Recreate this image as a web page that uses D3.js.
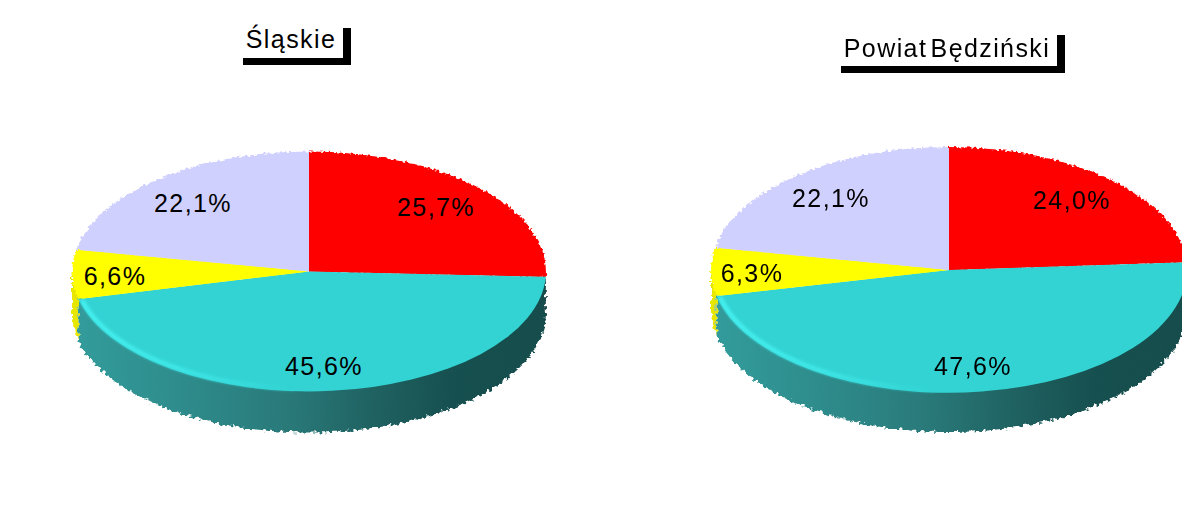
<!DOCTYPE html>
<html>
<head>
<meta charset="utf-8">
<script src="https://cdn.jsdelivr.net/npm/d3@7"></script>
<style>
  body { margin: 0; background: #fff; }
  svg { display: block; }
  text { font-family: "Liberation Sans", Arial, sans-serif; fill: #000; }
</style>
</head>
<body>
<svg id="chart" width="1182" height="516"></svg>
<script>
// slices run clockwise from 12 o'clock
const sliceColors = ['#ff0000', '#33d3d3', '#ffff00', '#d0d0ff'];
const wallColors = ['#c00000', null, '#e6e600', '#a0a0d0'];

const titles = ['Śląskie', 'Powiat Będziński'];
const slaskieValues = [25.7, 45.6, 6.6, 22.1];
const bedzinskiValues = [24.0, 47.6, 6.3, 22.1];
const slaskieLabels = ['25,7%', '45,6%', '6,6%', '22,1%'];
const bedzinskiLabels = ['24,0%', '47,6%', '6,3%', '22,1%'];

const panels = [
  {
    id: 'a', title: titles[0], values: slaskieValues, labels: slaskieLabels,
    cx: 309, cy: 271.5, rx: 237, ry: 120, depth: 41,
    box: { x: 243, y: 21, w: 100, h: 37, textX: 291, textY: 48 },
    labelOffsets: [[127, -64.5], [15, 94.5], [-194, 4.5], [-116, -68.5]]
  },
  {
    id: 'b', title: titles[1], values: bedzinskiValues, labels: bedzinskiLabels,
    cx: 949, cy: 270, rx: 238, ry: 123, depth: 39,
    box: { x: 841, y: 28, w: 216, h: 38, textX: 947, textY: 57 },
    labelOffsets: [[123, -70], [24, 96], [-197, 3], [-118, -72]]
  }
];

const svg = d3.select('#chart');
const defs = svg.append('defs');

// rough stair-step edge of the original render
function roughFilter(id, freq, scale) {
  const f = defs.append('filter').attr('id', id)
    .attr('color-interpolation-filters', 'sRGB')
    .attr('x', '-5%').attr('y', '-5%').attr('width', '110%').attr('height', '110%');
  f.append('feTurbulence').attr('type', 'fractalNoise')
    .attr('baseFrequency', freq).attr('numOctaves', 1).attr('seed', 4).attr('result', 'n');
  f.append('feDisplacementMap').attr('in', 'SourceGraphic').attr('in2', 'n')
    .attr('scale', scale).attr('xChannelSelector', 'R').attr('yChannelSelector', 'G');
}
roughFilter('rough', 0.3, 8);
roughFilter('roughFace', 0.35, 6);

defs.append('filter').attr('id', 'soft')
  .append('feGaussianBlur').attr('stdDeviation', 1.4);

const pie = d3.pie().value(d => d).sort(null);
const arc = d3.arc().innerRadius(0).outerRadius(1);

function drawPanel(p) {
  const g = svg.append('g');
  const slices = pie(p.values);

  const wallGrad = defs.append('linearGradient').attr('id', 'wall-' + p.id)
    .attr('gradientUnits', 'userSpaceOnUse')
    .attr('x1', p.cx - p.rx).attr('x2', p.cx + p.rx).attr('y1', 0).attr('y2', 0);
  [[0, '#339c9c'], [0.2, '#2f8e8e'], [0.45, '#2a7a7a'], [0.65, '#1f6060'], [0.8, '#175050'], [1, '#164c4c']]
    .forEach(([o, c]) => wallGrad.append('stop').attr('offset', o).attr('stop-color', c));

  const hiGrad = defs.append('linearGradient').attr('id', 'hi-' + p.id)
    .attr('gradientUnits', 'userSpaceOnUse')
    .attr('x1', p.cx - p.rx).attr('x2', p.cx - 20).attr('y1', 0).attr('y2', 0);
  hiGrad.append('stop').attr('offset', 0).attr('stop-color', '#48f4f4');
  hiGrad.append('stop').attr('offset', 0.5).attr('stop-color', '#3fe8e8');
  hiGrad.append('stop').attr('offset', 1).attr('stop-color', '#33d3d3');

  const ex = a => p.cx + p.rx * Math.sin(a);
  const ey = a => p.cy - p.ry * Math.cos(a);
  // wall starts a little above the rim so the roughening never opens a gap under the face
  const wall = d3.area().x(ex).y0(a => ey(a) - 6).y1(a => ey(a) + p.depth);

  // side wall: only the part of each slice on the front half of the ellipse
  const walls = g.append('g').attr('filter', 'url(#rough)');
  slices.forEach((s, i) => {
    const from = Math.max(s.startAngle, Math.PI / 2);
    const to = Math.min(s.endAngle, Math.PI * 1.5);
    if (to <= from) return;
    const steps = d3.range(from, to, 0.01).concat([to]);
    walls.append('path')
      .attr('d', wall(steps))
      .attr('fill', wallColors[i] || `url(#wall-${p.id})`);
  });

  // top face, jagged pass first then a clean one so inner borders stay sharp.
  // the big slice has a smooth front rim, so it skips the jagged pass
  const faceRough = g.append('g').attr('filter', 'url(#roughFace)');
  const faceClean = g.append('g');
  const place = k => `translate(${p.cx},${p.cy}) scale(${p.rx * k},${p.ry * k})`;
  slices.forEach((s, i) => {
    if (i === 1) return;
    faceRough.append('path').attr('d', arc(s)).attr('transform', place(1)).attr('fill', sliceColors[i]);
  });
  slices.forEach((s, i) => {
    faceClean.append('path')
      .attr('d', arc(s))
      .attr('transform', place(i === 1 ? 1 : 0.985))
      .attr('fill', sliceColors[i]);
  });

  // bright rim on the lower left of the big slice
  const big = slices[1];
  const rim = d3.line()
    .x(a => p.cx + (p.rx - 3) * Math.sin(a))
    .y(a => p.cy - (p.ry - 3) * Math.cos(a));
  g.append('path')
    .attr('d', rim(d3.range(Math.PI * 1.02, big.endAngle - 0.012, 0.01)))
    .attr('fill', 'none')
    .attr('stroke', `url(#hi-${p.id})`)
    .attr('stroke-width', 4)
    .attr('filter', 'url(#soft)');

  g.selectAll('text.value')
    .data(p.labels)
    .join('text')
    .attr('class', 'value')
    .attr('x', (d, i) => p.cx + p.labelOffsets[i][0])
    .attr('y', (d, i) => p.cy + p.labelOffsets[i][1] + 9)
    .attr('text-anchor', 'middle')
    .attr('font-size', 25)
    .attr('letter-spacing', 1.4)
    .text(d => d);

  // title box with hard black drop shadow
  const b = p.box;
  g.append('rect').attr('x', b.x).attr('y', b.y + 7).attr('width', b.w + 8).attr('height', b.h)
    .attr('fill', '#000');
  g.append('rect').attr('x', b.x).attr('y', b.y).attr('width', b.w).attr('height', b.h)
    .attr('fill', '#fff');
  g.append('text')
    .attr('x', b.textX).attr('y', b.textY)
    .attr('text-anchor', 'middle')
    .attr('font-size', 25)
    .attr('letter-spacing', 1.4)
    .attr('word-spacing', -5)
    .text(p.title);
}

panels.forEach(drawPanel);
</script>
</body>
</html>
